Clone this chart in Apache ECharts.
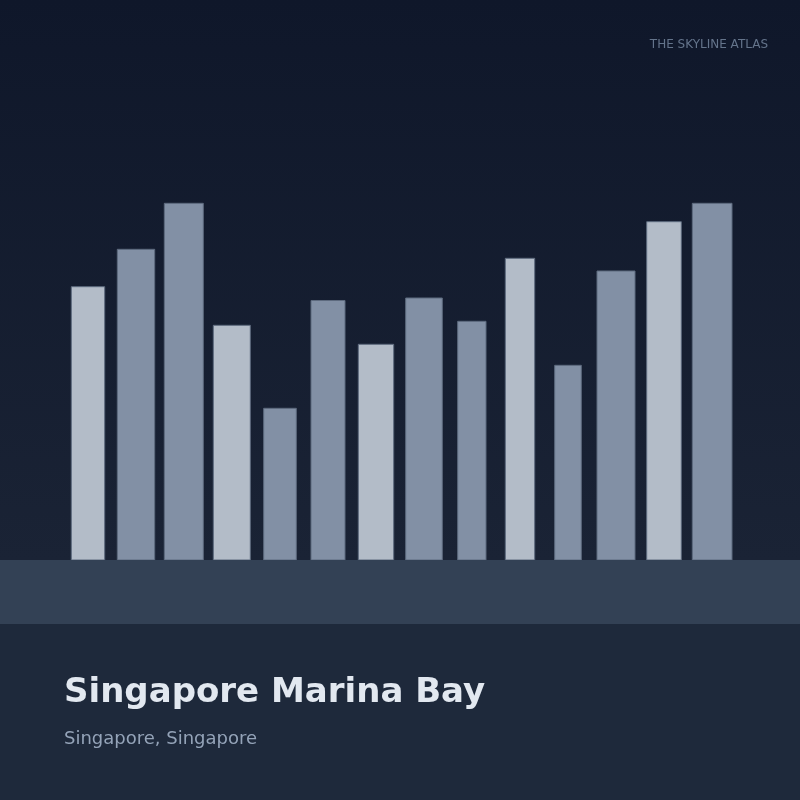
<!DOCTYPE html>
<html><head><meta charset="utf-8">
<script src="https://cdn.jsdelivr.net/npm/echarts@6/dist/echarts.min.js"></script>
<style>html,body{margin:0;padding:0;background:#1e293b}#c{width:800px;height:800px}</style>
</head><body><div id="c"></div>
<script>
// Building footprints along the skyline (start, end) and heights
const buildingStart = [71.3, 117.3, 164.3, 213.3, 263.7, 311, 358.3, 405.7, 457.7, 505.3, 554.7, 597, 646.7, 692.3];
const buildingEnd   = [104.7, 154.7, 203.3, 250.3, 296.3, 345, 393.7, 442.3, 486, 534.7, 581.3, 635, 681.3, 732];
const buildingHeight = [273.3, 310.7, 356.7, 234.7, 151.7, 259.5, 215.7, 262, 238.7, 301.7, 194.7, 289, 338.3, 356.7];
const buildingTone = ['light','dark','dark','light','dark','dark','light','dark','dark','light','dark','dark','light','dark'];
const titleText = 'Singapore Marina Bay';
const subtitleText = 'Singapore, Singapore';
const brandText = 'THE SKYLINE ATLAS';

const data = buildingStart.map((s, i) => [s, buildingEnd[i], buildingHeight[i], buildingTone[i] === 'light' ? 1 : 0]);

const chart = echarts.init(document.getElementById('c'));
chart.setOption({
  animation: false,
  backgroundColor: '#1e293b',
  grid: { left: 0, right: 0, top: 0, height: 560 },
  xAxis: { type: 'value', min: 0, max: 800, show: false },
  yAxis: { type: 'value', min: 0, max: 560, show: false },
  graphic: [
    { type: 'rect', z: -10, silent: true, shape: { x: 0, y: 0, width: 800, height: 560 },
      style: { fill: new echarts.graphic.LinearGradient(0, 0, 0, 1, [
        { offset: 0, color: '#0f172a' }, { offset: 1, color: '#1a2335' }]) } },
    { type: 'rect', z: 10, silent: true, shape: { x: 0, y: 560, width: 800, height: 64 },
      style: { fill: '#334155' } },
    { type: 'text', z: 10, left: 64, top: 676, style: { text: titleText, fill: '#e2e8f0',
      font: 'bold 34px "DejaVu Sans"' } },
    { type: 'text', z: 10, left: 64, top: 730, style: { text: subtitleText, fill: '#94a3b8',
      font: '18px "DejaVu Sans"' } },
    { type: 'text', z: 10, right: 32, top: 39, style: { text: brandText, fill: '#64748b',
      font: '12px "DejaVu Sans"' } }
  ],
  series: [{
    type: 'custom',
    data: data,
    renderItem: function (params, api) {
      const p0 = api.coord([api.value(0), api.value(2)]);
      const p1 = api.coord([api.value(1), 0]);
      const light = api.value(3) === 1;
      return {
        type: 'rect',
        shape: { x: p0[0], y: p0[1], width: p1[0] - p0[0], height: p1[1] - p0[1] },
        style: { fill: light ? '#b3bcc8' : '#8290a5', stroke: '#5d6a7e', lineWidth: 1 }
      };
    }
  }]
});
</script></body></html>
